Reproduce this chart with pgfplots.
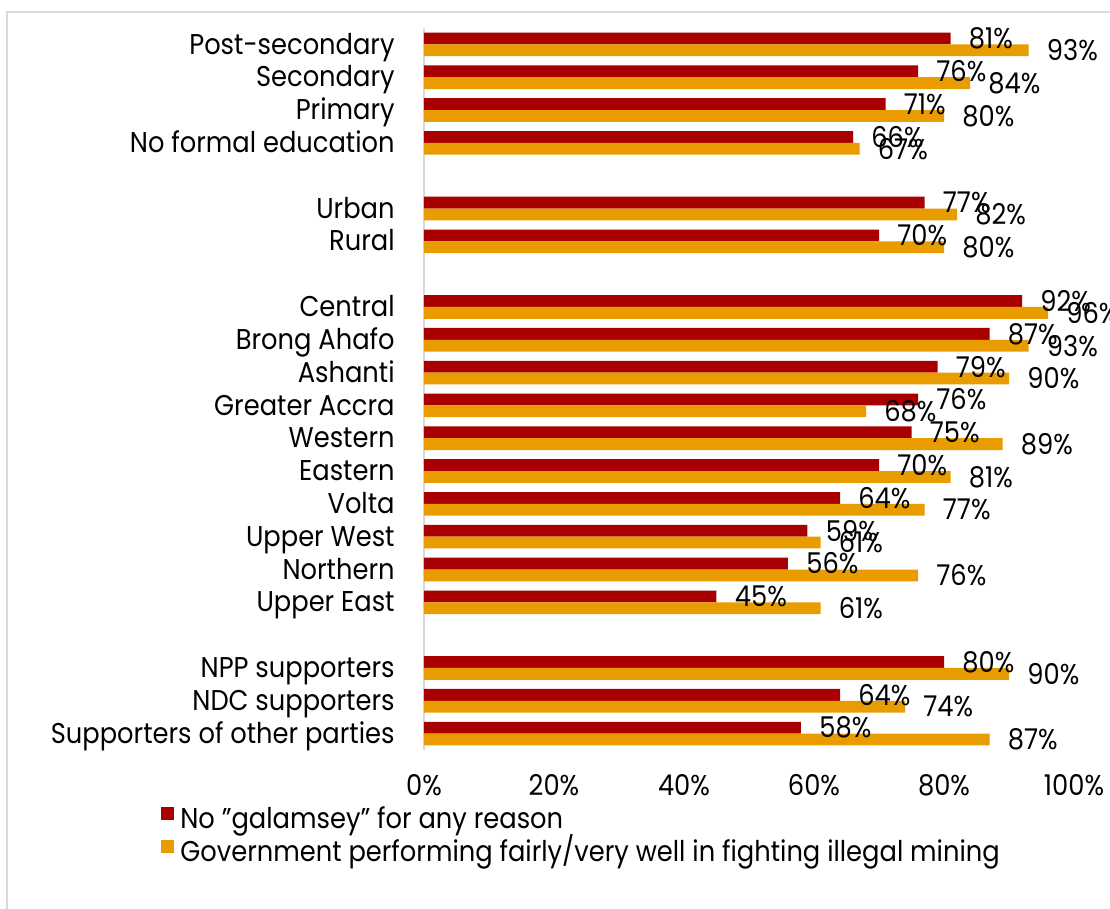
\documentclass[border=0pt]{standalone}
\usepackage{pgfplots}
\pgfplotsset{compat=1.18}
\usepackage{fontspec}
\setmainfont{Poppins}[FakeStretch=0.9]
\definecolor{cred}{RGB}{168,0,0}
\definecolor{corange}{RGB}{232,156,0}
\definecolor{cgrid}{RGB}{217,217,217}
\newcommand{\cf}{\fontsize{14.3pt}{17pt}\selectfont}
\begin{document}
\cf
\begin{tikzpicture}
\useasboundingbox (0,0) rectangle (555pt,-454.5pt);
\draw[cgrid, line width=1pt] (3.5pt,-454.5pt) -- (3.5pt,-6pt) -- (555pt,-6pt);
\begin{axis}[
  at={(212pt,-375pt)}, anchor=south west,
  scale only axis, width=325pt, height=361pt,
  xmin=0, xmax=100, ymin=-0.5, ymax=21.5,
  axis lines*=left,
  x axis line style={draw=none},
  y axis line style={draw=cgrid, line width=1pt},
  major tick length=0pt,
  /pgf/number format/assume math mode=true,
  xtick={0,20,40,60,80,100},
  xticklabel={\pgfmathprintnumber{\tick}\%},
  xticklabel style={anchor=center, yshift=-17.5pt, font=\cf},
  ytick={0,1,2,4,5,6,7,8,9,10,11,12,13,15,16,18,19,20,21},
  yticklabels={Supporters of other parties, NDC supporters, NPP supporters,
    Upper East, Northern, Upper West, Volta, Eastern, Western, Greater Accra,
    Ashanti, Brong Ahafo, Central, Rural, Urban,
    No formal education, Primary, Secondary, Post-secondary},
  yticklabel style={anchor=base east, inner sep=0pt, xshift=-14.5pt, yshift=-4.8pt, font=\cf},
  xbar, bar width=0.36,
  point meta=x,
  nodes near coords={\pgfmathprintnumber{\pgfplotspointmeta}\%},
  nodes near coords style={anchor=west, inner sep=0pt, xshift=9pt, font=\cf, text=black},
  legend style={at={(-0.4139,-0.0720)}, anchor=north west, draw=none, fill=none,
    font=\cf, column sep=3pt, row sep=0pt,
    nodes={inner sep=0pt, text height=11pt, text depth=5.5pt}},
  legend cell align=left,
  legend image code/.code={\fill[#1] (0pt,1.2pt) rectangle (6.5pt,7.7pt);},
  clip=false,
]
\addplot[fill=cred, draw=none, bar shift=0.18] coordinates {
(81,21) (76,20) (71,19) (66,18)
(77,16) (70,15)
(92,13) (87,12) (79,11) (76,10) (75,9) (70,8) (64,7) (59,6) (56,5) (45,4)
(80,2) (64,1) (58,0)};
\addlegendentry{No "galamsey" for any reason}
\addplot[fill=corange, draw=none, bar shift=-0.18] coordinates {
(93,21) (84,20) (80,19) (67,18)
(82,16) (80,15)
(96,13) (93,12) (90,11) (68,10) (89,9) (81,8) (77,7) (61,6) (76,5) (61,4)
(90,2) (74,1) (87,0)};
\addlegendentry{Government performing fairly/very well in fighting illegal mining}
\end{axis}
\end{tikzpicture}
\end{document}
